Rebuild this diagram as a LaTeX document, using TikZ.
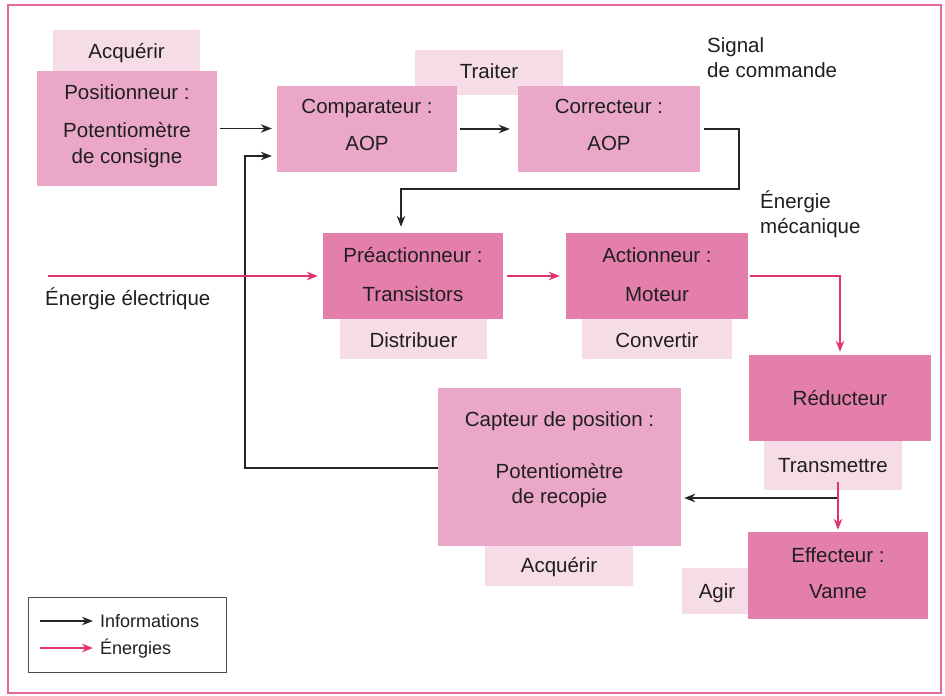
\documentclass[tikz,border=0pt]{standalone}
\usepackage{fontspec}
\setmainfont{Liberation Sans}
\usetikzlibrary{arrows.meta}
\definecolor{tabpink}{HTML}{F6DCE7}
\definecolor{midpink}{HTML}{EBA7C7}
\definecolor{darkpink}{HTML}{E47FAC}
\definecolor{energyred}{HTML}{E2336E}
\definecolor{framepink}{HTML}{E46A9E}
\begin{document}
\begin{tikzpicture}[x=1pt,y=-1pt,
  font=\fontsize{20.5}{25}\selectfont,
  tabbox/.style={rectangle, fill=tabpink, inner sep=0pt},
  midbox/.style={rectangle, fill=midpink, inner sep=0pt},
  darkbox/.style={rectangle, fill=darkpink, inner sep=0pt},
  txt/.style={anchor=base, inner sep=0pt, text=black!88},
  ltxt/.style={anchor=base west, inner sep=0pt, text=black!88, align=left},
  info/.style={draw=black!85, line width=1.3pt, -{Stealth[length=11pt,width=8.5pt]}},
  energy/.style={draw=energyred, line width=1.7pt, -{Stealth[length=11pt,width=8.5pt]}},
]
\useasboundingbox (0,0) rectangle (945,696);
\fill[white] (0,0) rectangle (945,696);
\draw[framepink, line width=1.5pt] (8,5) rectangle (941,693);

% function tabs (behind the blocks)
\node[tabbox, minimum width=147, minimum height=45] (tacq1) at (126.5,52) {};
\node[tabbox, minimum width=148, minimum height=45] (ttrt) at (489,72.5) {};
\node[tabbox, minimum width=147, minimum height=44] (tdis) at (413.5,337) {};
\node[tabbox, minimum width=150, minimum height=44] (tcvt) at (657,337) {};
\node[tabbox, minimum width=138, minimum height=54] (ttrm) at (833,463) {};
\node[tabbox, minimum width=148, minimum height=46] (tacq2) at (559,563) {};
\node[tabbox, minimum width=72, minimum height=46] (tagr) at (718,591) {};

% blocks
\node[midbox, minimum width=180, minimum height=115] (pos) at (127,128.5) {};
\node[midbox, minimum width=180, minimum height=86] (cmp) at (367,129) {};
\node[midbox, minimum width=182, minimum height=86] (cor) at (609,129) {};
\node[darkbox, minimum width=180, minimum height=86] (pre) at (413,276) {};
\node[darkbox, minimum width=182, minimum height=86] (act) at (657,276) {};
\node[darkbox, minimum width=182, minimum height=86] (red) at (840,398) {};
\node[midbox, minimum width=243, minimum height=158] (cap) at (559.5,467) {};
\node[darkbox, minimum width=180, minimum height=87] (eff) at (838,575.5) {};

% texts
\node[txt] (lacq1) at (126.5,58) {Acquérir};
\node[txt] (lpos1) at (127,99) {Positionneur :};
\node[txt] (lpos2) at (127,137) {Potentiomètre};
\node[txt] (lpos3) at (127,163) {de consigne};
\node[txt] (ltrt) at (489,78) {Traiter};
\node[txt] (lcmp1) at (367,113) {Comparateur :};
\node[txt] (lcmp2) at (367,150) {AOP};
\node[txt] (lcor1) at (609,113) {Correcteur :};
\node[txt] (lcor2) at (609,150) {AOP};
\node[ltxt] (lsig) at (707,77) {Signal\\de commande};
\node[txt] (lpre1) at (413,262) {Préactionneur :};
\node[txt] (lpre2) at (413,301) {Transistors};
\node[txt] (ldis) at (413.5,347) {Distribuer};
\node[txt] (lact1) at (657,262) {Actionneur :};
\node[txt] (lact2) at (657,301) {Moteur};
\node[txt] (lcvt) at (657,347) {Convertir};
\node[ltxt] (lmec) at (760,233) {Énergie\\mécanique};
\node[ltxt] (lelec) at (45,305) {Énergie électrique};
\node[txt] (lred) at (840,405) {Réducteur};
\node[txt] (ltrm) at (833,472) {Transmettre};
\node[txt] (lcap1) at (559.5,426) {Capteur de position :};
\node[txt] (lcap2) at (559.5,478) {Potentiomètre};
\node[txt] (lcap3) at (559.5,503) {de recopie};
\node[txt] (lacq2) at (559,572) {Acquérir};
\node[txt] (leff1) at (838,562) {Effecteur :};
\node[txt] (leff2) at (838,598) {Vanne};
\node[txt] (lagr) at (717,598) {Agir};

% information links
\coordinate (sig1) at (739,189);
\coordinate (sig2) at (401,189);
\coordinate (fb1) at (245,468);
\coordinate (fb2) at (245,156);
\coordinate (tap) at (838,498);
\draw[info, shorten <=3pt, shorten >=5pt] (pos.east) -- (pos.east -| cmp.west);
\draw[info, shorten <=3pt, shorten >=8pt] (cmp.east) -- (cor.west);
\draw[info, shorten <=4pt, shorten >=6pt] (cor.east) -| (sig1) -- (sig2) -- (sig2 |- pre.north);
\draw[info, shorten >=5pt] (cap.west |- fb1) -- (fb1) -- (fb2) -- (fb2 -| cmp.west);
\draw[info, shorten >=3pt] (tap) -- (tap -| cap.east);

% energy links
\coordinate (elec) at (48,276);
\draw[energy, shorten >=5pt] (elec) -- (pre.west);
\draw[energy, shorten <=4pt, shorten >=6pt] (pre.east) -- (act.west);
\draw[energy, shorten <=2pt, shorten >=3pt] (act.east) -| (red.north);
\draw[energy, shorten <=41pt, shorten >=2pt] (red.south -| eff.north) -- (eff.north);

% legend
\node[draw=black!70, line width=0.8pt, fill=white, minimum width=198, minimum height=75, inner sep=0pt] (leg) at (127,634.5) {};
\coordinate (li1) at (40,621);
\coordinate (li2) at (40,648);
\draw[info] (li1) -- ++(53,0) coordinate (li1e);
\draw[energy] (li2) -- ++(53,0) coordinate (li2e);
\node[ltxt, font=\fontsize{18}{22}\selectfont] (linf) at (100,627) {Informations};
\node[ltxt, font=\fontsize{18}{22}\selectfont] (lene) at (100,654) {Énergies};
\end{tikzpicture}
\end{document}
